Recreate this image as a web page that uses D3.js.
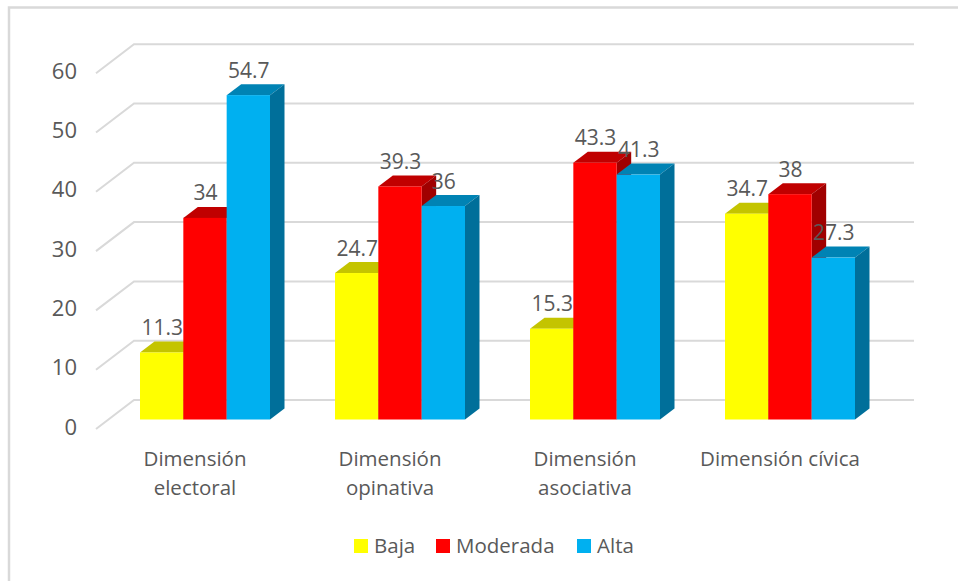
<!DOCTYPE html>
<html>
<head>
<meta charset="utf-8">
<script src="https://cdn.jsdelivr.net/npm/d3@7"></script>
<style>
  body { margin: 0; background: #fff; }
  text { font-family: "Open Sans", sans-serif; fill: #595959; }
</style>
</head>
<body>
<svg width="958" height="581"></svg>
<script>
const categories = [["Dimensión", "electoral"], ["Dimensión", "opinativa"], ["Dimensión", "asociativa"], ["Dimensión cívica"]]
const seriesNames = ["Baja", "Moderada", "Alta"]
const baja = [11.3, 24.7, 15.3, 34.7]
const moderada = [34, 39.3, 43.3, 38]
const alta = [54.7, 36, 41.3, 27.3]
const yTicks = [0, 10, 20, 30, 40, 50, 60]

const seriesValues = [baja, moderada, alta]
const front = ["#ffff00", "#ff0000", "#00b0f0"]
const top_ = ["#c4c400", "#c00000", "#0083b4"]
const side = ["#a8a800", "#a00000", "#006f9a"]

let svg = d3.select("svg")

// fake 3d: wall sits behind the bars, bars have a shorter depth
const wall = {dx: 38, dy: 29, frontY: 9.5}
const bar = {dx: 14.5, dy: 11}

let y = d3.scaleLinear().domain([0, 60]).range([419.5, 63.7])
let x0 = d3.scaleBand().domain(d3.range(categories.length)).range([107.5, 887.5])
let x1 = d3.scaleBand().domain(d3.range(seriesNames.length)).range([32.5, 162.5])

// frame
svg.append("path")
    .attr("d", "M958,7.5H9V581")
    .attr("fill", "none")
    .attr("stroke", "#d9d9d9")
    .attr("stroke-width", 2.5)

// gridlines with the diagonal on the side wall
svg.append("g").selectAll("path")
    .data(yTicks)
    .join("path")
    .attr("d", d => {
      let yb = y(d) - 19.5
      return "M96," + (yb + wall.dy) + "L" + (96 + wall.dx) + "," + yb + "H914"
    })
    .attr("fill", "none")
    .attr("stroke", "#d9d9d9")
    .attr("stroke-width", 2)

// y axis, labels only
let yAxis = svg.append("g")
    .attr("transform", "translate(77," + 7.5 + ")")
    .call(d3.axisLeft(y).tickValues(yTicks).tickSize(0).tickPadding(0))
yAxis.select(".domain").remove()
yAxis.selectAll("text")
    .attr("font-size", 22)
    .style("font-family", '"Open Sans", sans-serif')
    .attr("fill", "#595959")

// bars, series by series so the later ones cover the side of the earlier
let groups = svg.append("g").selectAll("g")
    .data(categories)
    .join("g")
    .attr("transform", (d, i) => "translate(" + x0(i) + ",0)")

groups.each(function(c, i) {
  let g = d3.select(this)
  seriesValues.forEach((vals, s) => {
    let xl = x1(s)
    let w = x1.bandwidth()
    let yt = y(vals[i])
    let yb = y(0)
    g.append("path")
        .attr("d", "M" + xl + "," + yt + "l" + bar.dx + "," + (-bar.dy) + "h" + w + "l" + (-bar.dx) + "," + bar.dy + "z")
        .attr("fill", top_[s])
    g.append("path")
        .attr("d", "M" + (xl + w) + "," + yt + "l" + bar.dx + "," + (-bar.dy) + "V" + (yb - bar.dy) + "l" + (-bar.dx) + "," + bar.dy + "z")
        .attr("fill", side[s])
    g.append("rect")
        .attr("x", xl)
        .attr("y", yt)
        .attr("width", w)
        .attr("height", yb - yt)
        .attr("fill", front[s])
  })
})

// value labels go on top of everything
groups.each(function(c, i) {
  let g = d3.select(this)
  seriesValues.forEach((vals, s) => {
    g.append("text")
        .attr("x", x1(s) + x1.bandwidth() / 2 + 0.5)
        .attr("y", y(vals[i]) - 17.5)
        .attr("text-anchor", "middle")
        .attr("font-size", 21)
        .text(vals[i])
  })
})

// category labels
groups.each(function(c, i) {
  let t = d3.select(this).append("text")
      .attr("text-anchor", "middle")
      .attr("font-size", 20.5)
  c.forEach((line, k) => {
    t.append("tspan")
        .attr("x", 87.5)
        .attr("y", 466 + k * 28.5)
        .text(line)
  })
})

// legend
const legendX = [354, 436, 577]
let legend = svg.append("g").selectAll("g")
    .data(seriesNames)
    .join("g")
    .attr("transform", (d, i) => "translate(" + legendX[i] + ",539)")
legend.append("rect")
    .attr("width", 14)
    .attr("height", 14)
    .attr("fill", (d, i) => front[i])
legend.append("text")
    .attr("x", 20)
    .attr("y", 14)
    .attr("font-size", 20.5)
    .text(d => d)
</script>
</body>
</html>
